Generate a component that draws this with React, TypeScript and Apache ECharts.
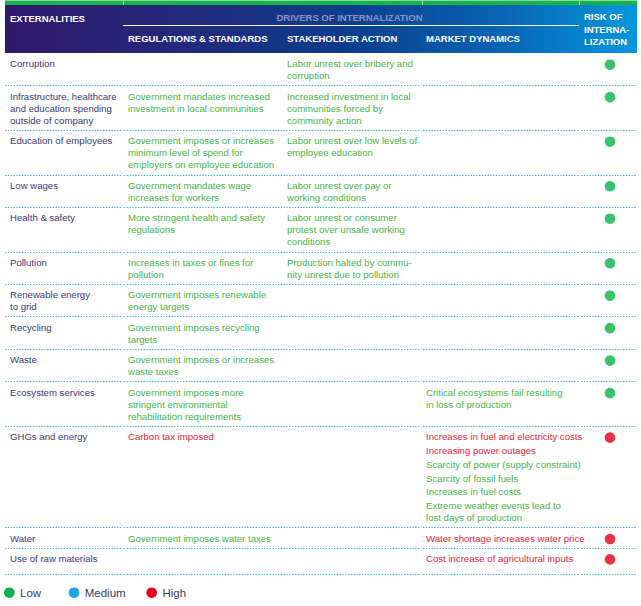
import React, { useEffect, useRef } from "react";
import * as echarts from "echarts";

// ---------- DATA ----------
const headerExternalities = "EXTERNALITIES";
const headerDrivers = "DRIVERS OF INTERNALIZATION";
const driverColumns = ["REGULATIONS & STANDARDS", "STAKEHOLDER ACTION", "MARKET DYNAMICS"];
const headerRisk = ["RISK OF", "INTERNA-", "LIZATION"];

const externalities = [
  "Corruption",
  "Infrastructure, healthcare\nand education spending\noutside of company",
  "Education of employees",
  "Low wages",
  "Health & safety",
  "Pollution",
  "Renewable energy\nto grid",
  "Recycling",
  "Waste",
  "Ecosystem services",
  "GHGs and energy",
  "Water",
  "Use of raw materials",
];

type Item = [string, string];

const regulations: Item[][] = [
  [],
  [["Government mandates increased\ninvestment in local communities", "low"]],
  [["Government imposes or increases\nminimum level of spend for\nemployers on employee education", "low"]],
  [["Government mandates wage\nincreases for workers", "low"]],
  [["More stringent health and safety\nregulations", "low"]],
  [["Increases in taxes or fines for\npollution", "low"]],
  [["Government imposes renewable\nenergy targets", "low"]],
  [["Government imposes recycling\ntargets", "low"]],
  [["Government imposes or increases\nwaste taxes", "low"]],
  [["Government imposes more\nstringent environmental\nrehabilitation requirements", "low"]],
  [["Carbon tax imposed", "high"]],
  [["Government imposes water taxes", "low"]],
  [],
];

const stakeholderAction: Item[][] = [
  [["Labor unrest over bribery and\ncorruption", "low"]],
  [["Increased investment in local\ncommunities forced by\ncommunity action", "low"]],
  [["Labor unrest over low levels of\nemployee education", "low"]],
  [["Labor unrest over pay or\nworking conditions", "low"]],
  [["Labor unrest or consumer\nprotest over unsafe working\nconditions", "low"]],
  [["Production halted by commu-\nnity unrest due to pollution", "low"]],
  [],
  [],
  [],
  [],
  [],
  [],
  [],
];

const marketDynamics: Item[][] = [
  [],
  [],
  [],
  [],
  [],
  [],
  [],
  [],
  [],
  [["Critical ecosystems fail resulting\nin loss of production", "low"]],
  [
    ["Increases in fuel and electricity costs", "high"],
    ["Increasing power outages", "high"],
    ["Scarcity of power (supply constraint)", "low"],
    ["Scarcity of fossil fuels", "low"],
    ["Increases in fuel costs", "low"],
    ["Extreme weather events lead to\nlost days of production", "low"],
  ],
  [["Water shortage increases water price", "high"]],
  [["Cost increase of agricultural inputs", "high"]],
];

const riskLevels = [
  "low", "low", "low", "low", "low", "low", "low",
  "low", "low", "low", "high", "high", "high",
];

const legendLevels = ["low", "medium", "high"];
const legendLabels = ["Low", "Medium", "High"];

// ---------- STYLE / LAYOUT ----------
const FONT = '"Liberation Sans", Arial, Helvetica, sans-serif';
const textColor: Record<string, string> = { low: "#45b54a", high: "#e61e3c", medium: "#1aa3e0" };
const dotColor: Record<string, string> = { low: "#0bb14a", medium: "#1ba3e2", high: "#e4001b" };
const EXT_COLOR = "#3b3872";
const SEP_COLOR = "#3cb0e6";

const X_LEFT = 5;
const X_RIGHT = 637;
const COL_X = [10, 128, 287, 426];
const DOT_X = 610;
const RISK_X = 584;
const HEADER_TOP = 5;
const HEADER_BOTTOM = 53;
const LINE = 12.1;
const ITEM_GAP = 13.8;
const PAD = 20.35;
const FIRST = 10.7;
const LAST_EXTRA = 6;
const SEGMENTS = [[5, 122], [124, 421], [423, 579], [581, 637]];

function cellHeight(items: Item[]): number {
  if (!items.length) return 0;
  let h = 0;
  items.forEach((it, k) => {
    h += (it[0].split("\n").length - 1) * LINE;
    if (k > 0) h += ITEM_GAP;
  });
  return h;
}

export default function App() {
  const ref = useRef<HTMLDivElement>(null);
  useEffect(() => {
    document.body.style.margin = "0";
    const chart = echarts.init(ref.current!, null, { renderer: "svg" });
    const graphics: any[] = [];

    // top green bar
    graphics.push({
      type: "rect",
      shape: { x: X_LEFT, y: 0.5, width: X_RIGHT - X_LEFT, height: 4.5 },
      style: { fill: "#16b24a" },
    });
    [123, 422, 579].forEach((x) =>
      graphics.push({
        type: "line",
        shape: { x1: x + 0.5, y1: 1, x2: x + 0.5, y2: 5 },
        style: { stroke: "rgba(255,255,255,0.55)", lineWidth: 1 },
      })
    );
    // header band
    graphics.push({
      type: "rect",
      shape: { x: X_LEFT, y: HEADER_TOP, width: X_RIGHT - X_LEFT, height: HEADER_BOTTOM - HEADER_TOP },
      style: {
        fill: new echarts.graphic.LinearGradient(0, 0, 1, 0, [
          { offset: 0, color: "#30186b" },
          { offset: 0.3, color: "#222a7c" },
          { offset: 0.55, color: "#0b3e8e" },
          { offset: 0.8, color: "#0867b6" },
          { offset: 1, color: "#0598de" },
        ]),
      },
    });
    graphics.push({
      type: "line",
      shape: { x1: 123, y1: 25.5, x2: 579, y2: 25.5 },
      style: { stroke: "#ffffff", lineWidth: 1 },
    });
    const headText = (text: string, x: number, y: number, fill = "#ffffff", align = "left") => ({
      type: "text",
      x,
      y,
      style: {
        text,
        fill,
        fontFamily: FONT,
        fontSize: 9.5,
        fontWeight: "bold",
        align,
        verticalAlign: "middle",
      },
    });
    graphics.push(headText(headerExternalities, COL_X[0], 18.3));
    graphics.push(headText(headerDrivers, 349.5, 17, "#8d92c8", "center"));
    driverColumns.forEach((t, i) => graphics.push(headText(t, COL_X[i + 1], 38.5)));
    headerRisk.forEach((t, i) => graphics.push(headText(t, RISK_X, 16.7 + i * 12.5)));

    // rows
    const dotData: any[] = [];
    let y = HEADER_BOTTOM;
    const nRows = externalities.length;
    for (let r = 0; r < nRows; r++) {
      const cells: Item[][] = [
        [[externalities[r], "ext"]],
        regulations[r],
        stakeholderAction[r],
        marketDynamics[r],
      ];
      let h = Math.max(...cells.map(cellHeight)) + PAD;
      if (r === nRows - 1) h += LAST_EXTRA;
      cells.forEach((items, c) => {
        let ly = y + FIRST;
        items.forEach((it, k) => {
          if (k > 0) ly += ITEM_GAP;
          const lines = it[0].split("\n");
          lines.forEach((ln, j) => {
            if (j > 0) ly += LINE;
            graphics.push({
              type: "text",
              x: COL_X[c],
              y: ly,
              style: {
                text: ln,
                fill: it[1] === "ext" ? EXT_COLOR : textColor[it[1]],
                fontFamily: FONT,
                fontSize: 9.6,
                verticalAlign: "middle",
              },
            });
          });
        });
      });
      dotData.push({
        value: [DOT_X, y + FIRST + 1],
        itemStyle: { color: dotColor[riskLevels[r]] },
      });
      const sy = Math.round(y + h) + 0.5;
      SEGMENTS.forEach(([a, b]) =>
        graphics.push({
          type: "line",
          shape: { x1: a, y1: sy, x2: b, y2: sy },
          style: { stroke: SEP_COLOR, lineWidth: 1, lineDash: [1.4, 1.4] },
        })
      );
      y += h;
    }

    // legend
    const LEG_Y = 592.7;
    const legDotX = [9.3, 74, 151.7];
    legendLevels.forEach((lv, i) => {
      graphics.push({
        type: "circle",
        shape: { cx: legDotX[i], cy: LEG_Y, r: 5.3 },
        style: { fill: dotColor[lv] },
      });
      graphics.push({
        type: "text",
        x: legDotX[i] + 10.7,
        y: LEG_Y,
        style: {
          text: legendLabels[i],
          fill: "#3a3a62",
          fontFamily: FONT,
          fontSize: 11.5,
          verticalAlign: "middle",
        },
      });
    });

    chart.setOption({
      animation: false,
      grid: { left: 0, right: 0, top: 0, bottom: 0, containLabel: false },
      xAxis: { type: "value", min: 0, max: 641, show: false },
      yAxis: { type: "value", min: 0, max: 606, inverse: true, show: false },
      series: [
        {
          type: "scatter",
          symbol: "circle",
          symbolSize: 10.6,
          data: dotData,
          silent: true,
          z: 5,
        },
      ],
      graphic: { elements: graphics },
    });
    return () => chart.dispose();
  }, []);
  return <div ref={ref} style={{ width: 641, height: 606 }} />;
}
